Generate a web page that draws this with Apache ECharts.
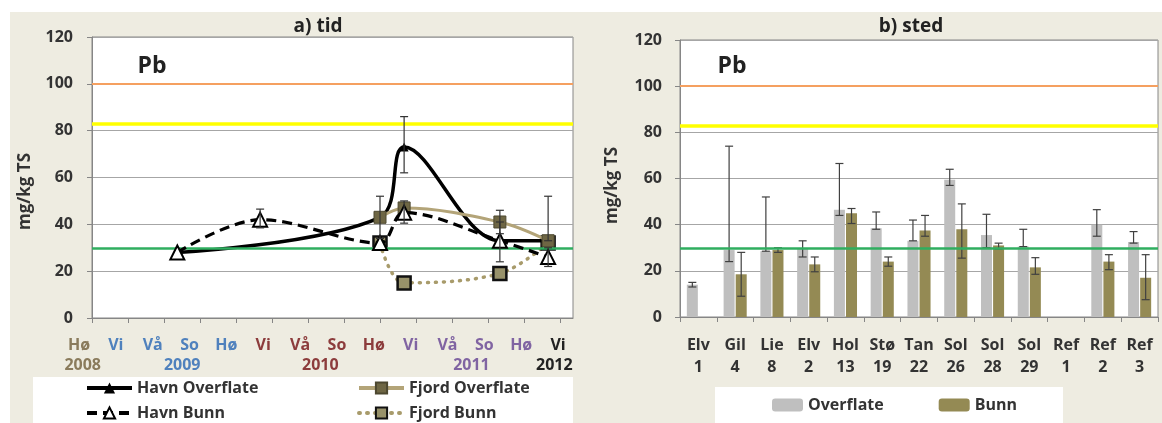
<!DOCTYPE html>
<html><head><meta charset="utf-8">
<script src="https://cdn.jsdelivr.net/npm/echarts@6/dist/echarts.min.js"></script>
<style>
html,body{margin:0;padding:0;background:#fff;}
#wrap{position:relative;width:1162px;height:423px;overflow:hidden;}
#bg{position:absolute;left:10px;top:12px;right:0;bottom:0;background:#eeece1;}
#chart{position:absolute;left:0;top:0;width:1162px;height:423px;}
</style></head><body>
<div id="wrap"><div id="bg"></div><div id="chart"></div></div>
<script>
// ---------- data: panel a) tid ----------
const seasonLabels = ['Hø','Vi','Vå','So','Hø','Vi','Vå','So','Hø','Vi','Vå','So','Hø','Vi'];
const seasonYearIdx = [0,1,1,1,1,2,2,2,2,3,3,3,3,4];
const yearLabels = ['2008','2009','2010','2011','2012'];
const yearTickAt = [0.1, 2.8, 6.55, 10.65, 12.9];
const limits = [30, 83, 100];

const sampleTimes   = [2.37, 4.67, 8.0, 8.67, 11.33, 12.67];
const havnOverflate = [28, null, 43, 73, 33, 33];
const havnBunn      = [28, 42, 32, 45, 33, 26];
const fjordOverflate= [null, null, 43, 47, 41, 33];
const fjordBunn     = [null, null, 32, 15, 19, 32];
const havnOverflateErr  = [null, null, null, [62, 86], null, null];
const havnBunnErr       = [null, [38.5, 46.5], null, [40.5, 50], [24, 41], [22, 30]];
const fjordOverflateErr = [null, null, [34, 52], null, [36, 46], [33, 52]];

// ---------- data: panel b) sted ----------
const stationNames = ['Elv','Gil','Lie','Elv','Hol','Stø','Tan','Sol','Sol','Sol','Ref','Ref','Ref'];
const stationNums  = ['1','4','8','2','13','19','22','26','28','29','1','2','3'];
const overflate     = [14, 29, 28.5, 29.5, 46.5, 38.5, 33, 59.5, 35.5, 30.5, null, 40, 32.5];
const overflateLow  = [13, 24, 28.5, 26, 44, 38, 33, 57, 30, 30.5, null, 35, 32];
const overflateHigh = [15, 74, 52, 33, 66.5, 45.5, 42, 64, 44.5, 38, null, 46.5, 37];
const bunn          = [null, 18.5, 29, 22.8, 45, 24, 37.5, 38, 31, 21.5, null, 24, 17];
const bunnLow       = [null, 9, 28, 19.6, 40.5, 22, 35, 25.5, 29.5, 18.5, null, 20.5, 7.5];
const bunnHigh      = [null, 28, 30, 26, 47, 26, 44, 49, 32, 25.7, null, 27, 27];

// ---------- helpers ----------
const FONT = 'Open Sans';
const pairs = ys => sampleTimes.map((t,i)=> ys[i]==null ? null : [t, ys[i]]).filter(Boolean);
const errPairs = es => sampleTimes.map((t,i)=> es[i]==null ? null : [t, es[i][0], es[i][1]]).filter(Boolean);
const catErr = (lo, hi) => lo.map((l,i)=> l==null ? null : [i, l, hi[i]]).filter(Boolean);

const BAR_W = 11, BAR_GAP = 0.1;
const barOff = (BAR_W * (1 + BAR_GAP)) / 2;
const SMOOTH = 0.35;

function errRender(off, color){
  return function(params, api){
    const x = api.value(0), lo = api.value(1), hi = api.value(2);
    const t = api.coord([x, hi]), b = api.coord([x, lo]);
    const cx = t[0] + off, hw = 4;
    const style = {stroke: color, lineWidth: 1.2};
    return {type:'group', children:[
      {type:'line', shape:{x1:cx,y1:t[1],x2:cx,y2:b[1]}, style},
      {type:'line', shape:{x1:cx-hw,y1:t[1],x2:cx+hw,y2:t[1]}, style},
      {type:'line', shape:{x1:cx-hw,y1:b[1],x2:cx+hw,y2:b[1]}, style}
    ]};
  };
}

const yearColors = ['#8a7b5c','#4f81bd','#8c3c3c','#8064a2','#222222'];
const seasonRich = {};
yearColors.forEach((c,i)=>{ seasonRich['y'+i] = {color:c, fontFamily:FONT, fontWeight:'bold', fontSize:16}; });

const labelBase = {fontFamily:FONT, fontWeight:'bold', fontSize:16, color:'#333'};
const gridLine = {lineStyle:{color:'#a6a6a6', width:1}};
const axisGray = '#868686';
const limitStyles = [
  {color:'#2fae5f', width:2.5, type:'solid'},
  {color:'#ffff00', width:3.5, type:'solid'},
  {color:'#f5a060', width:2, type:'solid'}
];
const limitLine = {
  silent:true, symbol:'none', label:{show:false}, animation:false,
  data: limits.map((v,i)=>({yAxis:v, lineStyle: limitStyles[i]}))
};

const yAxisCommon = (gi, gap, pad, margin) => ({
  gridIndex: gi, type:'value', min:0, max:120, interval:20,
  axisLine:{show:true, lineStyle:{color:axisGray}},
  axisTick:{show:true, length:5, lineStyle:{color:axisGray}},
  axisLabel:Object.assign({margin:margin}, labelBase),
  splitLine: gridLine,
  name:'mg/kg TS', nameLocation:'middle', nameRotate:90, nameGap:gap,
  nameTextStyle:{fontFamily:FONT, fontWeight:'bold', fontSize:17, color:'#333', padding:[0,pad,0,0]}
});

const labelSpan = 494 / 36.85;

const option = {
  animation:false,
  backgroundColor:'transparent',
  title:[
    {text:'a) tid', left:318, top:17, textAlign:'center', padding:0, textStyle:{fontFamily:FONT, fontWeight:'bold', fontSize:19, color:'#222'}},
    {text:'b) sted', left:911, top:17, textAlign:'center', padding:0, textStyle:{fontFamily:FONT, fontWeight:'bold', fontSize:19, color:'#222'}},
    {text:'Pb', left:152, top:55, textAlign:'center', padding:0, textStyle:{fontFamily:FONT, fontWeight:'bold', fontSize:23, color:'#222'}},
    {text:'Pb', left:732, top:55, textAlign:'center', padding:0, textStyle:{fontFamily:FONT, fontWeight:'bold', fontSize:23, color:'#222'}}
  ],
  graphic:[
    {type:'rect', shape:{x:33,y:377,width:540,height:46}, style:{fill:'#fff'}, z:0},
    {type:'rect', shape:{x:715,y:387,width:348,height:36}, style:{fill:'#fff'}, z:0}
  ],
  grid:[
    {left:92, top:37, width:481, height:281, show:true, backgroundColor:'#fff', borderColor:axisGray, borderWidth:1},
    {left:680, top:40, width:478, height:277, show:true, backgroundColor:'#fff', borderColor:axisGray, borderWidth:1},
    {left:79, top:37, width:494, height:281, show:false}
  ],
  legend:[
    {data:['Havn Overflate','Havn Bunn'], orient:'vertical', left:85, top:378, padding:0, itemWidth:45, itemHeight:14, itemGap:5,
     lineStyle:{width:4}, textStyle:Object.assign({lineHeight:20}, labelBase)},
    {data:['Fjord Overflate','Fjord Bunn'], orient:'vertical', left:357, top:378, padding:0, itemWidth:45, itemHeight:14, itemGap:5,
     lineStyle:{width:4}, textStyle:Object.assign({lineHeight:20}, labelBase)},
    {data:['Overflate','Bunn'], orient:'horizontal', left:772, top:395, padding:0, itemWidth:31, itemHeight:13, itemGap:55,
     textStyle:Object.assign({lineHeight:20}, labelBase)}
  ],
  xAxis:[
    // 0: time axis for data + ticks
    {gridIndex:0, type:'value', min:0, max:481/36, position:'bottom',
     axisLine:{show:true, lineStyle:{color:axisGray}},
     axisTick:{show:true, length:5, lineStyle:{color:axisGray}, customValues: seasonLabels.map((s,i)=>i)},
     axisLabel:{show:false}, splitLine:{show:false}},
    // 1: season labels (label row grid)
    {gridIndex:2, type:'value', min:0, max:labelSpan, position:'bottom',
     axisLine:{show:false}, axisTick:{show:false}, splitLine:{show:false},
     axisLabel:{show:true, margin:17, lineHeight:20, customValues: seasonLabels.map((s,i)=>i),
       formatter:(v)=>{const i=Math.round(v); return '{y'+seasonYearIdx[i]+'|'+seasonLabels[i]+'}';}, rich:seasonRich}},
    // 2: year labels
    {gridIndex:2, type:'value', min:0, max:labelSpan, position:'bottom', offset:0,
     axisLine:{show:false}, axisTick:{show:false}, splitLine:{show:false},
     axisLabel:{show:true, margin:37, lineHeight:20, customValues: yearTickAt,
       formatter:(v)=>{const i=yearTickAt.indexOf(v); return '{y'+i+'|'+yearLabels[i]+'}';}, rich:seasonRich}},
    // 3: stations
    {gridIndex:1, type:'category', data: stationNames.map((n,i)=>n+'\n'+stationNums[i]), position:'bottom',
     axisLine:{show:true, lineStyle:{color:axisGray}},
     axisTick:{show:true, length:5, lineStyle:{color:axisGray}},
     axisLabel:Object.assign({margin:17, lineHeight:22, interval:0}, labelBase),
     splitLine:{show:false}}
  ],
  yAxis:[ yAxisCommon(0, 58, 28, 19), yAxisCommon(1, 59, 14, 18),
    {gridIndex:2, type:'value', min:0, max:120, show:false} ],
  series:[
    {name:'limitsA', type:'line', xAxisIndex:0, yAxisIndex:0, data:[], z:1, markLine:limitLine},
    {name:'Fjord Bunn', type:'line', xAxisIndex:0, yAxisIndex:0, data:pairs(fjordBunn), smooth:SMOOTH, z:2,
     symbol:'rect', symbolSize:13,
     itemStyle:{color:'#98926a', borderColor:'#111', borderWidth:2.5},
     lineStyle:{color:'#a89b6b', width:3.5, type:[1,7], cap:'round'}},
    {name:'Havn Overflate', type:'line', xAxisIndex:0, yAxisIndex:0, data:pairs(havnOverflate), smooth:SMOOTH, z:3,
     symbol:'triangle', symbolSize:9,
     itemStyle:{color:'#000'}, lineStyle:{color:'#000', width:3.5}},
    {name:'Fjord Overflate', type:'line', xAxisIndex:0, yAxisIndex:0, data:pairs(fjordOverflate), smooth:SMOOTH, z:4,
     symbol:'rect', symbolSize:12,
     itemStyle:{color:'#6e6644', borderColor:'#4d4830', borderWidth:1},
     lineStyle:{color:'#b3a478', width:3}},
    {name:'Havn Bunn', type:'line', xAxisIndex:0, yAxisIndex:0, data:pairs(havnBunn), smooth:SMOOTH, z:5,
     symbol:'triangle', symbolSize:14,
     itemStyle:{color:'#fff', borderColor:'#000', borderWidth:2},
     lineStyle:{color:'#000', width:3.2, type:[10,6]}},
    {type:'custom', xAxisIndex:0, yAxisIndex:0, z:6, renderItem:errRender(0,'#333'),
     encode:{x:0, y:[1,2]},
     data: errPairs(havnOverflateErr).concat(errPairs(havnBunnErr), errPairs(fjordOverflateErr))},

    {name:'Overflate', type:'bar', xAxisIndex:3, yAxisIndex:1, data:overflate, barWidth:BAR_W, barGap:(BAR_GAP*100)+'%',
     itemStyle:{color:'#bfbfbf'}, z:2},
    {name:'Bunn', type:'bar', xAxisIndex:3, yAxisIndex:1, data:bunn, barWidth:BAR_W, barGap:(BAR_GAP*100)+'%',
     itemStyle:{color:'#948a54'}, z:2},
    {name:'limitsB', type:'line', xAxisIndex:3, yAxisIndex:1, data:[], z:3, markLine:limitLine},
    {type:'custom', xAxisIndex:3, yAxisIndex:1, z:4, renderItem:errRender(-barOff,'#404040'),
     encode:{x:0, y:[1,2]}, data: catErr(overflateLow, overflateHigh)},
    {type:'custom', xAxisIndex:3, yAxisIndex:1, z:4, renderItem:errRender(barOff,'#404040'),
     encode:{x:0, y:[1,2]}, data: catErr(bunnLow, bunnHigh)}
  ]
};
const chart = echarts.init(document.getElementById('chart'), null, {renderer:'canvas'});
chart.setOption(option);
</script>
</body></html>
